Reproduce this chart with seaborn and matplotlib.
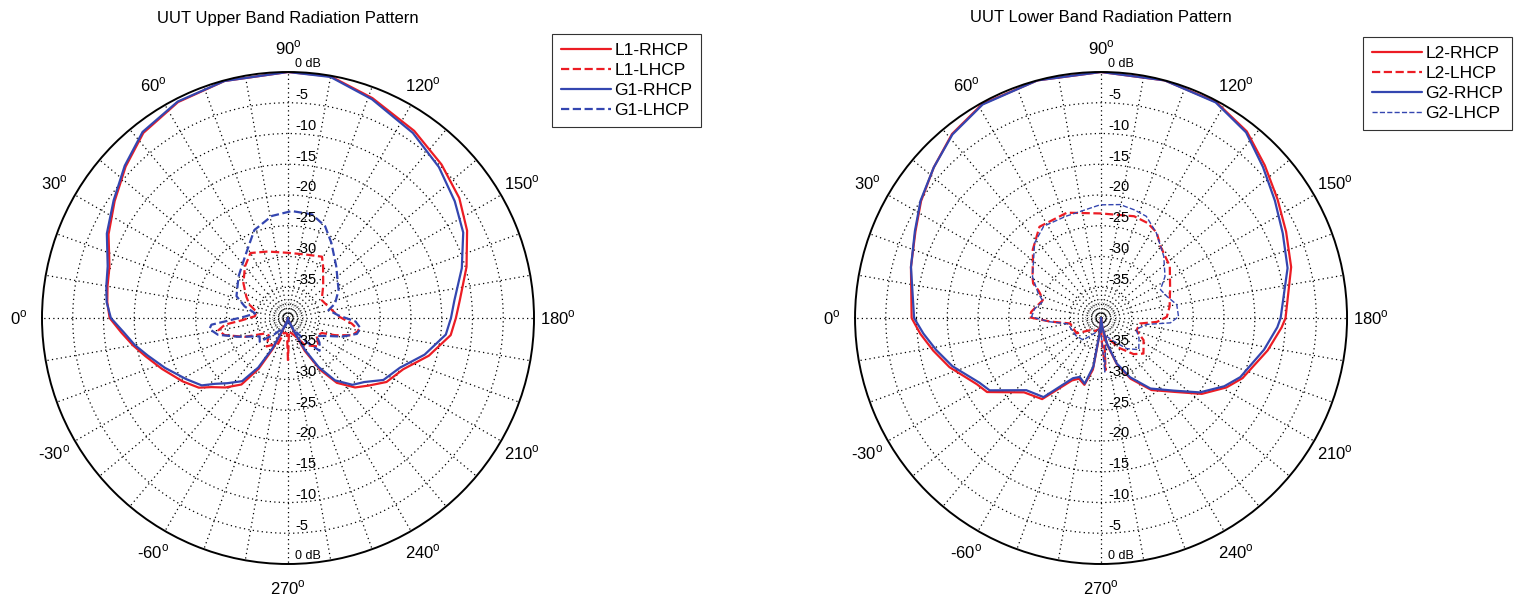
import numpy as np
import pandas as pd
import matplotlib
matplotlib.use("Agg")
import matplotlib.pyplot as plt
import seaborn as sns

# ---- pattern data: angle (deg, 0 = left, 90 = top) and gain (dB) ----
# upper band
l1_rhcp_ang = [-90, -75, -67, -64, -60, -55, -48, -42, -38, -31, -22, -15, -10, -5, 0, 5, 10, 16, 25, 34, 43, 52, 63, 75, 90,
               100, 111, 124, 135, 145, 154, 164, 174, 180, 186, 195, 204, 213, 220, 226, 233, 238, 243, 246, 255, 270]
l1_rhcp_db = [-40, -39.5, -38, -34.5, -30.5, -26.8, -24.8, -23.2, -21.6, -20.0, -17.9, -16.0, -14.4, -12.8, -11.0, -10.5, -10.2,
              -9.8, -7.8, -6.0, -3.9, -1.8, -0.6, -0.1, 0, -0.1, -1.7, -3.3, -4.7, -6.0, -7.6, -9.8, -11.9, -12.7, -13.4,
              -16.3, -19.5, -20.9, -22.9, -24.3, -26.8, -30.0, -34.0, -37.3, -39.5, -40]

g1_rhcp_ang = [-90, -75, -66, -63, -59, -54, -47, -42, -38, -31, -22, -15, -10, -5, 0, 5, 10, 16, 25, 34, 43, 52, 63, 75, 90,
               100, 111, 124, 135, 145, 154, 164, 174, 180, 186, 195, 204, 213, 220, 226, 233, 238, 242, 245, 255, 270]
g1_rhcp_db = [-40, -39.5, -38, -34.5, -30.6, -27.3, -25.5, -24.0, -22.2, -20.7, -18.4, -16.4, -14.7, -13.2, -11.2, -10.4, -10.0,
              -9.5, -7.5, -5.8, -3.7, -1.6, -0.5, -0.1, 0, -0.2, -1.9, -3.7, -5.3, -6.9, -8.3, -10.6, -12.8, -13.5, -14.2,
              -17.0, -20.1, -21.5, -23.8, -24.9, -27.3, -30.6, -34.1, -37.3, -39.5, -40]

l1_lhcp_ang = [-90, -86, -75, -69, -53, -42, -34, -23.5, -15, -10, -6, -3, 3, 11, 19, 27, 38, 50, 60, 73, 90, 105, 119, 124,
               138, 152, 164, 178, 185, 190, 195, 200, 204, 212, 223, 238, 250, 266, 270]
l1_lhcp_db = [-33.1, -37.5, -37.5, -35.6, -34.2, -35.8, -35.5, -32.3, -29.3, -28.5, -29.7, -32.4, -34.6, -34.8, -33.4, -32.4,
              -30.8, -29.1, -27.8, -28.7, -29.4, -29.3, -28.6, -29.8, -32.3, -33.8, -33.2, -31.8, -29.6, -28.3, -29.2,
              -31.8, -34.0, -34.5, -33.2, -34.8, -37.0, -37.8, -33.1]

g1_lhcp_ang = [-90, -70, -50, -40, -33, -20.5, -13.5, -8, -5, -2.5, 2, 8, 15, 23, 40, 55, 69, 81, 92, 103, 112, 120, 133,
               151, 163, 169, 177, 183, 188, 193, 199, 204, 212, 218, 226, 232, 245, 260, 270]
g1_lhcp_db = [-39.5, -38.5, -36.5, -34.0, -34.5, -31.3, -28.3, -27.1, -27.5, -30.3, -33.0, -34.6, -32.7, -30.9, -29.5, -27.8,
              -24.7, -23.2, -22.6, -22.7, -23.9, -25.9, -28.5, -30.6, -32.0, -33.3, -31.8, -29.0, -28.1, -28.5, -30.7,
              -32.8, -34.5, -33.5, -32.6, -35.0, -38.0, -39.5, -39.5]

# lower band
l2_rhcp_ang = [-90, -86, -83, -81, -76, -70, -65, -54, -44, -33, -28, -18, -11, -5, 0, 15, 25, 33, 42, 51, 61, 75, 90, 105,
               118, 128, 137, 146, 155, 165, 180, 183, 191, 203, 209, 217, 225, 235, 244, 251, 257, 262, 270]
l2_rhcp_db = [-40, -38, -36, -31.5, -28.8, -29.5, -28.8, -23.7, -22.6, -17.9, -17.1, -14.1, -12.2, -10.5, -9.2, -8.0, -6.7,
              -5.1, -3.4, -1.5, -0.2, 0, 0, 0, -0.2, -1.5, -3.6, -5.4, -6.8, -8.0, -10.0, -10.6, -12.4, -15.0, -16.7,
              -19.5, -23.0, -25.7, -29.0, -32.0, -35.5, -38.5, -40]

g2_rhcp_ang = [-90, -86, -83, -81, -76, -70, -65, -54, -44, -33, -28, -18, -11, -5, 0, 15, 25, 33, 42, 51, 61, 75, 90, 105,
               118, 128, 137, 146, 155, 165, 180, 183, 191, 203, 209, 217, 225, 235, 244, 251, 257, 262, 270]
g2_rhcp_db = [-40, -38, -36.4, -32.0, -29.0, -29.8, -29.2, -24.1, -23.1, -18.4, -17.6, -14.6, -12.7, -11.0, -9.6, -8.0, -6.6,
              -5.0, -3.4, -1.6, -0.3, 0, 0, 0, -0.3, -1.7, -4.0, -5.9, -7.4, -8.6, -10.8, -11.3, -13.0, -15.4, -17.1,
              -19.9, -23.3, -26.0, -29.3, -32.2, -35.8, -38.5, -40]

l2_lhcp_ang = [-90, -75, -60, -47.5, -32, -10, -4, 0.5, 5, 7, 17, 22, 24, 27, 31, 42, 45, 56, 72, 90, 108, 116, 123, 130,
               143, 157, 170.5, 179, 184, 188, 199, 207.5, 220, 228, 238, 248, 260, 265, 268, 270]
l2_lhcp_db = [-38.5, -38, -37.5, -37.3, -35.3, -34.9, -31.7, -28.4, -28.6, -28.9, -30.1, -29.3, -28.8, -27.6, -27.0, -25.1,
              -24.3, -22.1, -22.0, -23.0, -22.6, -22.8, -23.4, -24.9, -26.0, -27.8, -28.7, -29.3, -30.9, -33.6, -33.9,
              -32.2, -31.0, -32.1, -34.2, -36.1, -37.0, -31.5, -36.0, -38.5]

g2_lhcp_ang = [-90, -70, -51, -35, -10, -4, 1, 8, 16, 21.5, 31, 48.5, 58, 71, 89.5, 99.5, 107, 114, 123, 135.5, 147, 154.5,
               162, 170, 179, 184, 188, 198, 208, 220, 230, 240, 255, 266, 269, 270]
g2_lhcp_db = [-38.5, -37.5, -35.4, -35.0, -34.5, -31.5, -28.7, -29.1, -30.2, -29.0, -27.0, -23.7, -22.4, -22.5, -21.6, -21.3,
              -21.6, -21.9, -23.5, -25.7, -27.6, -29.3, -28.7, -27.5, -27.4, -28.7, -32.5, -34.0, -33.0, -32.0, -33.5,
              -35.5, -37.0, -31.2, -37.0, -38.5]

ring_levels = [-39.5, -39, -38.5, -38, -37.5, -37, -35, -30, -25, -20, -15, -10, -5]
upper_labels = [-35, -30, -25, -20, -15, -10, -5]
lower_labels = [-35, -30, -25, -20, -15, -10, -5]
spoke_angles = list(range(0, 360, 10))

RED = '#ec1c24'
BLUE = '#3446b0'

sns.set_theme(style='white')
plt.rcParams['font.family'] = ['Liberation Sans', 'DejaVu Sans']
plt.rcParams['mathtext.fontset'] = 'custom'
plt.rcParams['mathtext.rm'] = 'Liberation Sans'
plt.rcParams['text.color'] = 'black'
plt.rcParams['xtick.color'] = 'black'
plt.rcParams['ytick.color'] = 'black'


def angle_text(a):
    shown = a if a <= 270 else a - 360
    return f'{shown}$^{{\\rm o}}$'


def draw_panel(ax, curves, title, legend_xy, fig):
    for ang, db, name, color, ls, lw in curves:
        df = pd.DataFrame({'theta': np.deg2rad(ang), 'db': db})
        sns.lineplot(data=df, x='theta', y='db', ax=ax, sort=False, estimator=None,
                     color=color, linestyle=ls, linewidth=lw, label=name)
    ax.set_theta_zero_location('W')
    ax.set_theta_direction(-1)
    ax.set_ylim(-40, 0)
    ax.set_yticks(ring_levels)
    ax.set_yticklabels([])
    ax.set_xticks(np.deg2rad(spoke_angles))
    ax.set_xticklabels([angle_text(a) if a % 30 == 0 else '' for a in spoke_angles], fontsize=12)
    ax.tick_params(axis='x', pad=4)
    ax.grid(True, color='black', linestyle=(0, (1, 2.6)), linewidth=0.9)
    # the tight inner rings are drawn lighter
    for lev, gl in zip(ring_levels, ax.yaxis.get_gridlines()):
        if lev < -36:
            gl.set_linewidth(0.5)
            gl.set_color('#555555')
    ax.spines['polar'].set_linewidth(1.4)
    ax.spines['polar'].set_color('black')
    ax.set_xlabel('')
    ax.set_ylabel('')

    # radial level labels along the vertical axis
    for th, levels in ((90, upper_labels), (270, lower_labels)):
        for v in levels:
            ax.annotate(str(v), xy=(np.deg2rad(th), v), xytext=(5, 5.5), textcoords='offset points',
                        fontsize=10.5, ha='left', va='center', annotation_clip=False)
        ax.annotate('0 dB', xy=(np.deg2rad(th), 0), xytext=(5, 5.5), textcoords='offset points',
                    fontsize=9, ha='left', va='center', annotation_clip=False)

    bb = ax.get_position()
    fig.text((bb.x0 + bb.x1) / 2, 1 - 18 / 600, title, ha='center', va='center', fontsize=12)

    leg = ax.legend(loc='upper left', bbox_to_anchor=legend_xy, bbox_transform=fig.transFigure,
                    fontsize=12.5, frameon=True, fancybox=False, borderpad=0.5, handlelength=2.9,
                    handletextpad=0.2, labelspacing=0.28, borderaxespad=0)
    leg.get_frame().set_edgecolor('black')
    leg.get_frame().set_linewidth(0.8)


fig = plt.figure(figsize=(15.19, 6), dpi=100)
ax1 = fig.add_axes([0.02765, 0.06, 0.3239, 0.82], projection='polar')
ax2 = fig.add_axes([0.5629, 0.06, 0.3239, 0.82], projection='polar')

upper_curves = [
    (l1_rhcp_ang, l1_rhcp_db, 'L1-RHCP', RED, '-', 1.6),
    (l1_lhcp_ang, l1_lhcp_db, 'L1-LHCP', RED, '--', 1.6),
    (g1_rhcp_ang, g1_rhcp_db, 'G1-RHCP', BLUE, '-', 1.6),
    (g1_lhcp_ang, g1_lhcp_db, 'G1-LHCP', BLUE, '--', 1.6),
]
lower_curves = [
    (l2_rhcp_ang, l2_rhcp_db, 'L2-RHCP', RED, '-', 1.6),
    (l2_lhcp_ang, l2_lhcp_db, 'L2-LHCP', RED, '--', 1.6),
    (g2_rhcp_ang, g2_rhcp_db, 'G2-RHCP', BLUE, '-', 1.6),
    (g2_lhcp_ang, g2_lhcp_db, 'G2-LHCP', BLUE, '--', 1.0),
]

draw_panel(ax1, upper_curves, 'UUT Upper Band Radiation Pattern', (552 / 1519, 1 - 34 / 600), fig)
draw_panel(ax2, lower_curves, 'UUT Lower Band Radiation Pattern', (1363 / 1519, 1 - 37 / 600), fig)

fig.savefig('out.png', dpi=100)
